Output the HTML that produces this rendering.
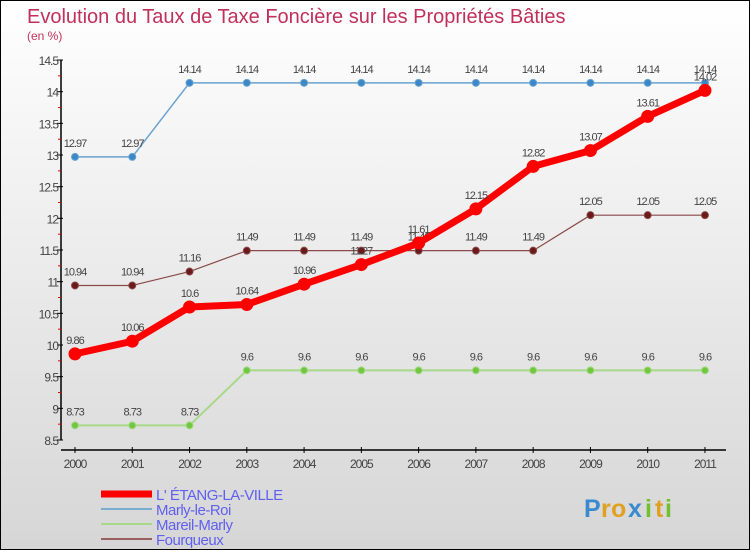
<!DOCTYPE html>
<html><head><meta charset="utf-8"><style>
body{margin:0;}
#c{width:748px;height:548px;border:1px solid #000;background:linear-gradient(#fff,#d6d6d6);position:relative;overflow:hidden;font-family:"Liberation Sans",sans-serif;}
</style></head><body>
<div id="c">
<svg id="s" width="748" height="548"></svg>
</div>
<script>
const years=[2000,2001,2002,2003,2004,2005,2006,2007,2008,2009,2010,2011];
const etang=[9.86,10.06,10.6,10.64,10.96,11.27,11.61,12.15,12.82,13.07,13.61,14.02];
const marly=[12.97,12.97,14.14,14.14,14.14,14.14,14.14,14.14,14.14,14.14,14.14,14.14];
const mareil=[8.73,8.73,8.73,9.6,9.6,9.6,9.6,9.6,9.6,9.6,9.6,9.6];
const fourq=[10.94,10.94,11.16,11.49,11.49,11.49,11.49,11.49,11.49,12.05,12.05,12.05];
const yTicks=["8.5","9","9.5","10","10.5","11","11.5","12","12.5","13","13.5","14","14.5"];
const NS="http://www.w3.org/2000/svg";
const s=document.getElementById('s');
const X=i=>74+i*57.27, Y=v=>439-(v-8.5)*63.33;
function el(t,a,txt){const e=document.createElementNS(NS,t);for(const k in a)e.setAttribute(k,a[k]);if(txt!==undefined)e.textContent=txt;s.appendChild(e);return e;}
let t=el('text',{x:26,y:22,'font-size':20,fill:'#c0305a'},'Evolution du Taux de Taxe Foncière sur les Propriétés Bâties');

t=el('text',{x:26,y:39,'font-size':12,fill:'#c0305a'},'(en %)');

let a=el('line',{x1:60,y1:Y(14.5),x2:60,y2:Y(8.5),stroke:'#000','stroke-width':1.5});

a=el('line',{x1:60,y1:449,x2:725,y2:449,stroke:'#000','stroke-width':1.5});

yTicks.forEach((lb,i)=>{const y=Y(+lb);
 const tk=el('line',{x1:56,y1:y,x2:62,y2:y,stroke:'#000'});
 
 if(i<yTicks.length-1){const m=el('line',{x1:57,y1:Y(+lb+0.25),x2:60,y2:Y(+lb+0.25),stroke:'#e00'});
 }
 const tx=el('text',{x:57,y:y+5,'font-size':12,fill:'#444','text-anchor':'end','letter-spacing':'-1'},lb);
 });
years.forEach((yr,i)=>{const x=X(i);
 const tk=el('line',{x1:x,y1:446,x2:x,y2:452,stroke:'#000'});
 
 const tx=el('text',{x:x,y:467,'font-size':12,fill:'#444','text-anchor':'middle','letter-spacing':'-1'},yr);
 });
function series(d,col,w,r,name,dark){
 const p=el('polyline',{points:d.map((v,i)=>X(i)+','+Y(v)).join(' '),fill:'none',stroke:col,'stroke-width':w,'stroke-linejoin':'round'});
 
 d.forEach((v,i)=>{const c=el('circle',{cx:X(i),cy:Y(v),r:r,fill:dark,stroke:col,'stroke-width':1});
 
 const tx=el('text',{x:X(i),y:Y(v)-10,'font-size':11,fill:'#444','text-anchor':'middle','letter-spacing':'-1'},v);
 });
}
series(marly,'#6aa3d0',1.5,3.5,'marly-le-roi','#3a88c8');
series(mareil,'#a8d888',2,3.5,'mareil-marly','#70c840');
series(fourq,'#8a4a4a',1.2,3.5,'fourqueux','#6a1a1a');
series(etang,'#f00',7,6,'etang-la-ville','#f00');
const leg=[['L\' ÉTANG-LA-VILLE','#f00',7],['Marly-le-Roi','#7aaed0',2],['Mareil-Marly','#a8d888',2],['Fourqueux','#9a6060',2]];
leg.forEach((l,i)=>{const y=493+i*15;
 const ln=el('line',{x1:100,y1:y,x2:151,y2:y,stroke:l[1],'stroke-width':l[2]});
 
 const tx=el('text',{x:155,y:y+6,'font-size':15,fill:'#6060f0','letter-spacing':'-0.5'},l[0]);
 });
const logo=[['P','#3a8ad0'],['r','#e0a020'],['o','#e0a020'],['x','#3a8ad0'],['i','#70c030'],['t','#e0a020'],['i','#70c030']];
let lx=583;
logo.forEach(c=>{const tx=el('text',{x:lx,y:516,'font-size':25,'font-weight':'bold',fill:c[1]},c[0]);
 
 lx+= (c[0]=='i'||c[0]=='t'||c[0]=='r')?10:17;});
</script>
</body></html>
